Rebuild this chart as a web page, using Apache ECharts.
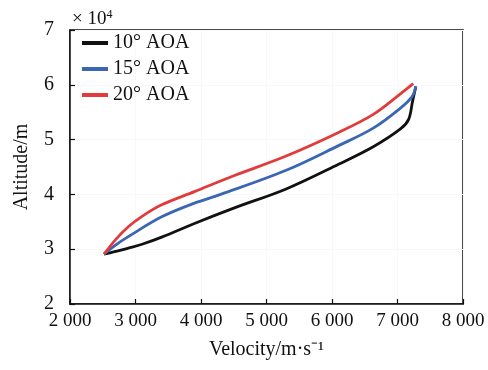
<!DOCTYPE html>
<html>
<head>
<meta charset="utf-8">
<script src="https://cdn.jsdelivr.net/npm/echarts@6/dist/echarts.min.js"></script>
<style>
  html, body { margin: 0; padding: 0; background: #fff; }
  #chart { width: 488px; height: 370px; }
</style>
</head>
<body>
<div id="chart"></div>
<script>
// velocity (m/s) and altitude (x10^4 m)
const seriesNames = ['10° AOA', '15° AOA', '20° AOA'];
const aoa10 = [[2520, 2.91], [2700, 2.96], [2890, 3.02], [3100, 3.09], [3400, 3.22], [3900, 3.47],
  [4500, 3.75], [5300, 4.10], [6100, 4.55], [6630, 4.87], [7050, 5.20], [7170, 5.37], [7230, 5.70], [7280, 5.97]];
const aoa15 = [[2520, 2.91], [2700, 3.08], [2890, 3.23], [3400, 3.59], [3900, 3.84], [4300, 4.0],
  [5300, 4.44], [6100, 4.89], [6630, 5.21], [7040, 5.57], [7220, 5.78], [7280, 5.97]];
const aoa20 = [[2520, 2.91], [2700, 3.18], [2890, 3.41], [3100, 3.6], [3400, 3.81], [3900, 4.05],
  [4500, 4.34], [5300, 4.70], [6100, 5.13], [6630, 5.46], [7040, 5.83], [7240, 6.02]];
const colors = ['#111111', '#3a66b4', '#e23b3b'];

const font = 'Liberation Serif';
const chart = echarts.init(document.getElementById('chart'));

const mkLine = (name, data, color) => ({
  name: name,
  type: 'line',
  data: data,
  smooth: 0.35,
  symbol: 'none',
  lineStyle: {color: color, width: 2.8},
  itemStyle: {color: color}
});

chart.setOption({
  animation: false,
  backgroundColor: '#fff',
  textStyle: {fontFamily: font, color: '#111'},
  grid: {
    left: 70, right: 25, top: 30, bottom: 66,
    show: true, borderColor: '#111', borderWidth: 1.5
  },
  legend: {
    orient: 'vertical',
    left: 82, top: 33, padding: 0,
    icon: 'rect',
    itemWidth: 26, itemHeight: 4, itemGap: 6,
    textStyle: {fontFamily: font, fontSize: 20, color: '#111'},
    data: seriesNames
  },
  xAxis: {
    type: 'value',
    min: 2000, max: 8000, interval: 1000,
    name: 'Velocity/m·s⁻¹',
    nameLocation: 'middle', nameGap: 36,
    nameTextStyle: {fontFamily: font, fontSize: 20, color: '#111'},
    axisLine: {lineStyle: {color: '#111', width: 1.5}},
    axisTick: {inside: true, length: 5, lineStyle: {color: '#111', width: 1.2}},
    axisLabel: {
      fontFamily: font, fontSize: 19, color: '#111', margin: 8,
      formatter: v => String(v).replace(/\B(?=(\d{3})+(?!\d))/g, ' ')
    },
    splitLine: {show: true, lineStyle: {color: '#f8f8f8', width: 1}}
  },
  yAxis: {
    type: 'value',
    min: 2, max: 7, interval: 1,
    name: 'Altitude/m',
    nameLocation: 'middle', nameGap: 38,
    nameTextStyle: {fontFamily: font, fontSize: 20, color: '#111'},
    axisLine: {lineStyle: {color: '#111', width: 1.5}},
    axisTick: {inside: true, length: 5, lineStyle: {color: '#111', width: 1.2}},
    axisLabel: {fontFamily: font, fontSize: 20, color: '#111', margin: 16},
    splitLine: {show: true, lineStyle: {color: '#f8f8f8', width: 1}}
  },
  graphic: [{
    type: 'text',
    left: 72, top: 9,
    style: {
      text: '× 10{sup|4}',
      fontFamily: font, fontSize: 19, fill: '#111',
      rich: {sup: {fontFamily: font, fontSize: 12, verticalAlign: 'top', padding: [0, 0, 8, 0]}}
    }
  }],
  series: [
    mkLine(seriesNames[0], aoa10, colors[0]),
    mkLine(seriesNames[1], aoa15, colors[1]),
    mkLine(seriesNames[2], aoa20, colors[2])
  ]
});
</script>
</body>
</html>
